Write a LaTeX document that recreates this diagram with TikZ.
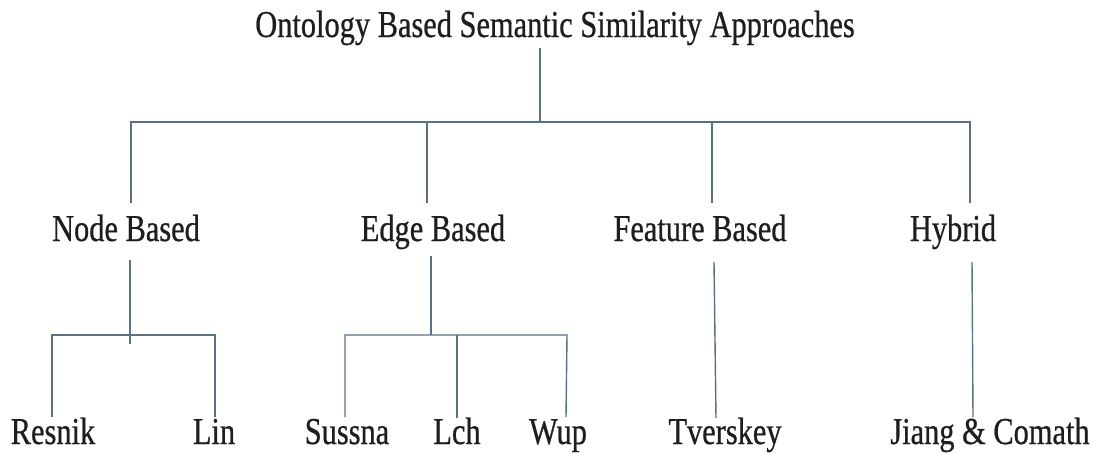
\documentclass[tikz,border=0pt]{standalone}
\usepackage{fontspec}
\setmainfont{Liberation Serif}[FakeStretch=0.8,FakeBold=0.6]
\definecolor{linkcol}{RGB}{92,112,132}
\definecolor{inkcol}{RGB}{30,30,30}
\begin{document}
\begin{tikzpicture}[x=1pt,y=-1pt,
  lbl/.style={anchor=base,inner sep=0pt,text=inkcol,font=\fontsize{38}{40}\selectfont},
  link/.style={draw=linkcol,line width=1.4pt}]
\useasboundingbox[fill=white] (0,0) rectangle (1097,453);

% labels
\node[lbl] (root) at (555,37) {Ontology Based Semantic Similarity Approaches};
\node[lbl] (node) at (126,241) {Node Based};
\node[lbl] (edge) at (433,241) {Edge Based};
\node[lbl] (feat) at (700,241) {Feature Based};
\node[lbl] (hyb)  at (953,241) {Hybrid};
\node[lbl] (resnik) at (53,444) {Resnik};
\node[lbl] (lin)    at (214,444) {Lin};
\node[lbl] (sussna) at (347,444) {Sussna};
\node[lbl] (lch)    at (457,444) {Lch};
\node[lbl] (wup)    at (558,444) {Wup};
\node[lbl] (tver)   at (725,444) {Tverskey};
\node[lbl] (jiang)  at (990,444) {Jiang \& Comath};

% connector end points
\coordinate (r0) at (540,48);
\coordinate (r1) at (540,122);
\coordinate (bl) at (131,122);
\coordinate (br) at (970,122);
\coordinate (n0) at (131,203);
\coordinate (e0) at (427,122);
\coordinate (e1) at (427,203);
\coordinate (f0) at (712,122);
\coordinate (f1) at (712,203);
\coordinate (h1) at (970,203);

\coordinate (nb0) at (130,260);
\coordinate (nb1) at (130,344);
\coordinate (nl) at (52,335);
\coordinate (nr) at (215,335);
\coordinate (nl1) at (52,417);
\coordinate (nr1) at (215,417);

\coordinate (eb0) at (431,256);
\coordinate (eb1) at (431,335);
\coordinate (el) at (345,335);
\coordinate (em) at (457,335);
\coordinate (er) at (567,335);
\coordinate (el1) at (345,417);
\coordinate (em1) at (457,418);
\coordinate (er1) at (566,417);

\coordinate (fb0) at (714,262);
\coordinate (fb1) at (716,418);
\coordinate (hb0) at (972,262);
\coordinate (hb1) at (973,417);

% top level
\draw[link] (r0) -- (r1);
\draw[link] (n0) -- (bl) -- (br) -- (h1);
\draw[link] (e0) -- (e1);
\draw[link] (f0) -- (f1);

% node based
\draw[link] (nb0) -- (nb1);
\draw[link] (nl1) -- (nl) -- (nr) -- (nr1);

% edge based
\draw[link] (eb0) -- (eb1);
\draw[link] (el1) -- (el) -- (er) -- (er1);
\draw[link] (em) -- (em1);

% feature based and hybrid
\draw[link] (fb0) -- (fb1);
\draw[link] (hb0) -- (hb1);
\end{tikzpicture}
\end{document}
